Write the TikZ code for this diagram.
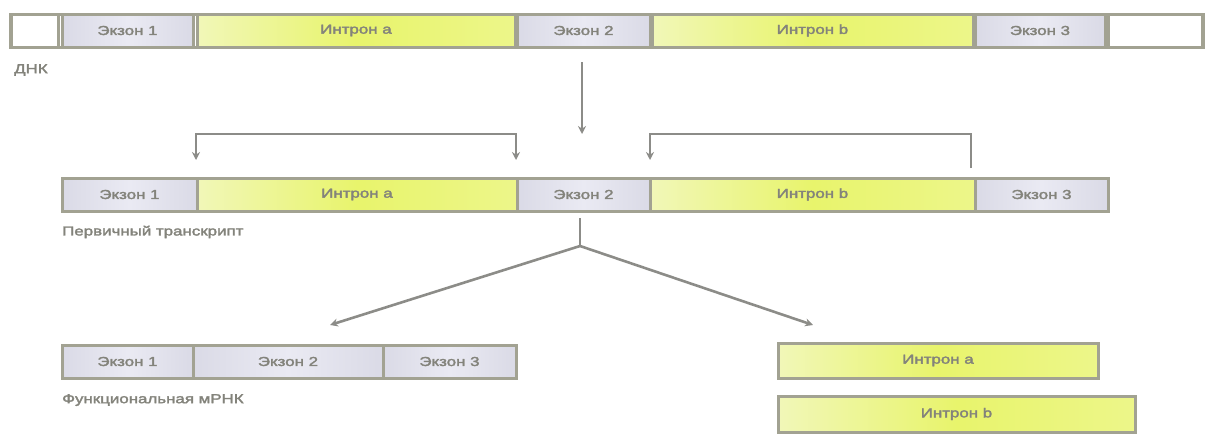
\documentclass[tikz,border=0pt]{standalone}
\usepackage{fontspec}
\usetikzlibrary{arrows.meta}
\newfontfamily\lblfont[FakeStretch=1.3,FakeBold=2.5]{Liberation Sans}
\definecolor{edge}{HTML}{A2A292}
\definecolor{conncol}{HTML}{8C8C88}
\definecolor{txtcol}{HTML}{83837B}
\definecolor{exonA}{HTML}{DADAE6}
\definecolor{exonB}{HTML}{EAEAF3}
\definecolor{intrA}{HTML}{F1F7B8}
\definecolor{intrB}{HTML}{E8F46C}
\tikzset{
  cellbase/.style={draw=edge, line width=3pt, inner sep=0pt, outer sep=0pt,
    font=\lblfont\fontsize{13}{15}\selectfont, text=txtcol},
  exon/.style={cellbase, left color=exonA, right color=exonA, middle color=exonB},
  intron/.style={cellbase, left color=intrA, right color=intrB!80!white, middle color=intrB},
  blank/.style={cellbase, fill=white},
  frame/.style={draw=edge, line width=3pt},
  caption/.style={anchor=west, inner sep=0pt, text=txtcol,
    font=\lblfont\fontsize{13}{15}\selectfont},
  conn/.style={draw=conncol, line width=2.6pt},
  arr/.style={conn, -{Stealth[length=8pt,width=8pt]}},
  arrboth/.style={conn, {Stealth[length=8pt,width=8pt]}-{Stealth[length=8pt,width=8pt]}},
}
% \cellbox{style}{name}{x1}{x2}{y1}{y2}{text}
\newcommand{\cellbox}[7]{%
  \node[#1, minimum width={(#4-#3)*1pt}, minimum height={(#6-#5)*1pt}]
    (#2) at ({(#3+#4)/2},{(#5+#6)/2}) {#7};}
\begin{document}
\begin{tikzpicture}[x=1pt,y=-1pt]
\useasboundingbox (0,0) rectangle (1207,437);

% DNA strand
\draw[frame, fill=white] (10,14) rectangle (1203,47);
\cellbox{blank}{d0}{11}{58}{14}{47}{}
\cellbox{exon}{dex1}{62}{193}{14}{47}{Экзон 1}
\cellbox{intron}{dina}{197}{515}{14}{47}{Интрон a}
\cellbox{exon}{dex2}{517}{650}{14}{47}{Экзон 2}
\cellbox{intron}{dinb}{652}{973}{14}{47}{Интрон b}
\cellbox{exon}{dex3}{975}{1105}{14}{47}{Экзон 3}
\cellbox{blank}{d4}{1108}{1202}{14}{47}{}
\node[caption] (dnalbl) at (14,70) {ДНК};

% transcription
\coordinate (tfrom) at (582,62);
\coordinate (tto) at (582,134);
\draw[arr] (tfrom) -- (tto);

% primary transcript
\cellbox{exon}{pex1}{62}{197}{178}{211}{Экзон 1}
\cellbox{intron}{pina}{197}{517}{178}{211}{Интрон a}
\cellbox{exon}{pex2}{517}{650}{178}{211}{Экзон 2}
\cellbox{intron}{pinb}{650}{975}{178}{211}{Интрон b}
\cellbox{exon}{pex3}{975}{1108}{178}{211}{Экзон 3}
\node[caption] (prelbl) at (62,232) {Первичный транскрипт};

% intron brackets
\coordinate (ba1) at (196,160);
\coordinate (ba2) at (516,160);
\draw[arrboth] (ba1) -- (196,134) -- (516,134) -- (ba2);
\coordinate (bb1) at (971,168);
\coordinate (bb2) at (650,160);
\draw[arr] (bb1) -- (971,134) -- (650,134) -- (bb2);

% splicing split
\coordinate (sp0) at (580,218);
\coordinate (sp1) at (580,246);
\coordinate (spl) at (330,325);
\coordinate (spr) at (813,325);
\draw[conn] (sp0) -- (sp1);
\draw[arr] (sp1) -- (spl);
\draw[arr] (sp1) -- (spr);

% mature mRNA
\cellbox{exon}{mex1}{62}{193}{345}{378}{Экзон 1}
\cellbox{exon}{mex2}{193}{383}{345}{378}{Экзон 2}
\cellbox{exon}{mex3}{383}{516}{345}{378}{Экзон 3}
\node[caption] (mlbl) at (62,400) {Функциональная мРНК};

% excised introns
\cellbox{intron}{xina}{778}{1098}{343}{378}{Интрон a}
\cellbox{intron}{xinb}{778}{1135}{396}{432}{Интрон b}
\end{tikzpicture}
\end{document}
